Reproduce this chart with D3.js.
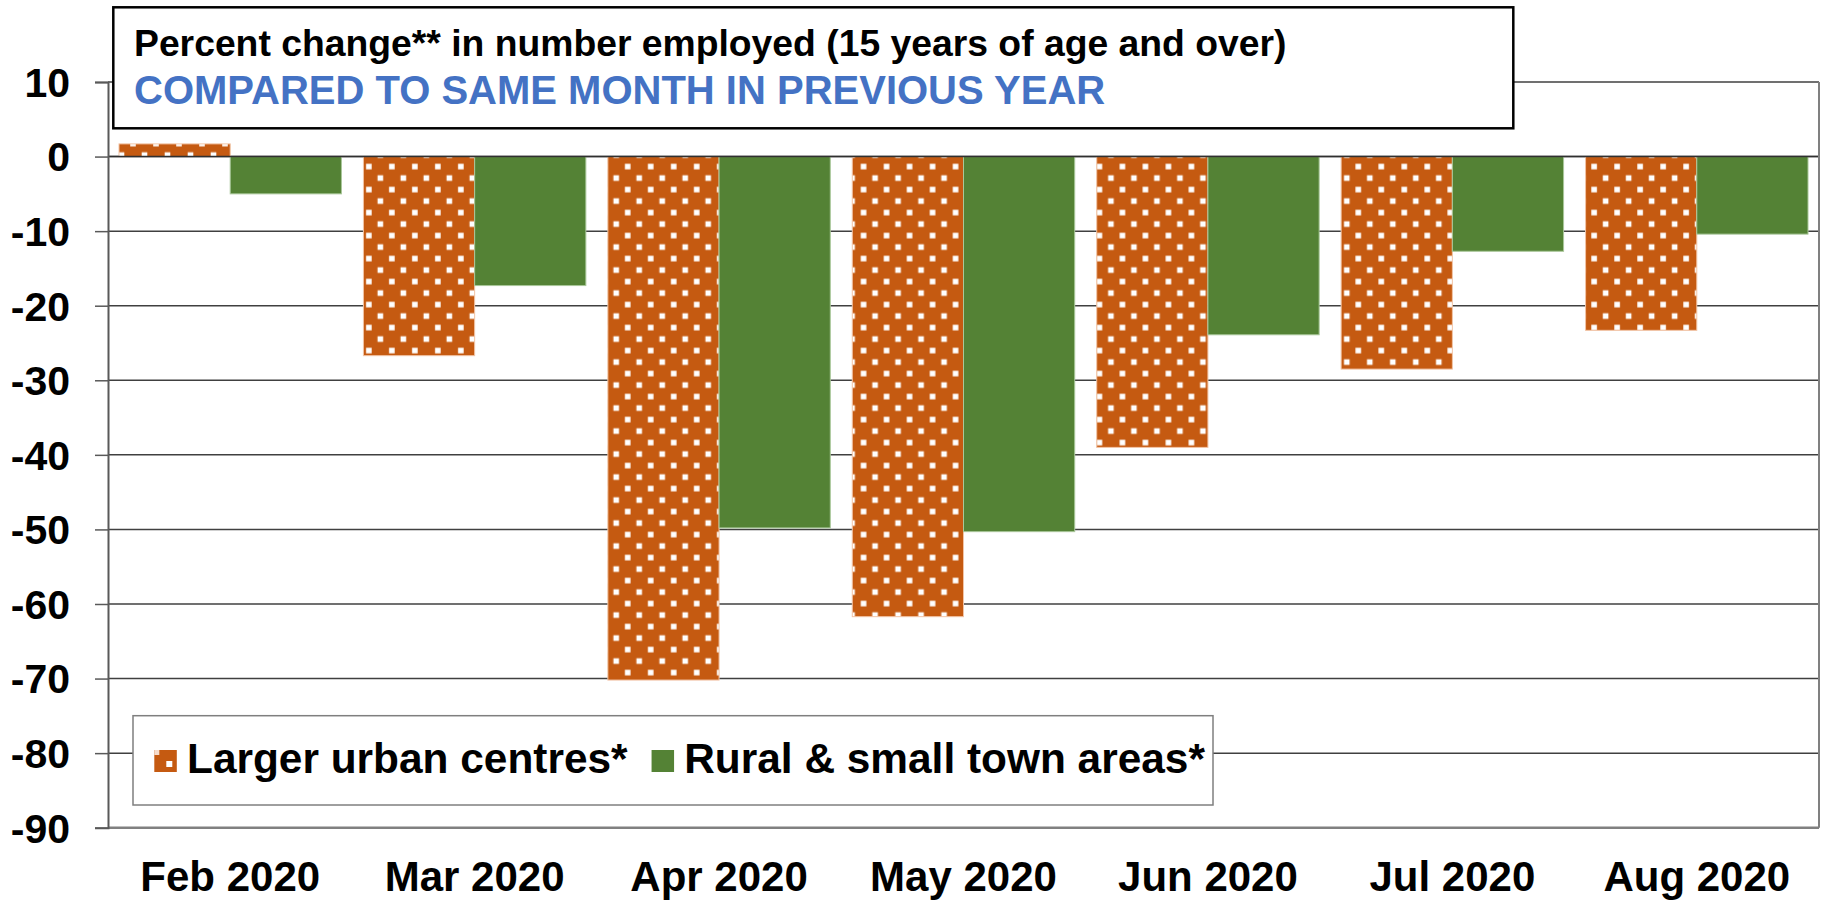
<!DOCTYPE html>
<html>
<head>
<meta charset="utf-8">
<script src="https://cdn.jsdelivr.net/npm/d3@7"></script>
<style>
  html, body { margin: 0; padding: 0; background: #fff; }
  svg { display: block; }
  text { font-family: "Liberation Sans", Arial, sans-serif; font-weight: bold; }
</style>
</head>
<body>
<svg id="chart" width="1825" height="900"></svg>
<script>
const categories = ["Feb 2020", "Mar 2020", "Apr 2020", "May 2020", "Jun 2020", "Jul 2020", "Aug 2020"];
const urbanValues = [1.7, -26.7, -70.2, -61.7, -39.0, -28.5, -23.3];
const ruralValues = [-5.0, -17.3, -49.8, -50.3, -23.9, -12.7, -10.4];
const seriesKeys = ["urban", "rural"];
const seriesNames = ["Larger urban centres*", "Rural & small town areas*"];
const yTicks = [10, 0, -10, -20, -30, -40, -50, -60, -70, -80, -90];
const titleLine1 = "Percent change** in number employed (15 years of age and over)";
const titleLine2 = "COMPARED TO SAME MONTH IN PREVIOUS YEAR";

(function () {
const ORANGE = "#C55A11", GREEN = "#548235", BLUE = "#4472C4";

const svg = d3.select("#chart");
const pLeft = 108, pRight = 1819, pTop = 82, pBottom = 827.7;

const y = d3.scaleLinear().domain([-90, 10]).range([pBottom, pTop]);
const x0 = d3.scaleBand().domain(categories).range([pLeft, pRight]).paddingInner(0.09).paddingOuter(0.045);
const x1 = d3.scaleBand().domain(seriesKeys).range([0, x0.bandwidth()]);

const data = categories.map((c, i) => ({cat: c, urban: urbanValues[i], rural: ruralValues[i]}));

const defs = svg.append("defs");

// gridlines
svg.append("g").selectAll("line").data(yTicks.filter(t => t !== -90)).join("line")
  .attr("x1", pLeft).attr("x2", pRight)
  .attr("y1", d => y(d)).attr("y2", d => y(d))
  .attr("stroke", "#404040").attr("stroke-width", 1.5);

// patterns
data.forEach((d, i) => {
  const bx = x0(d.cat) + x1("urban");
  const p = defs.append("pattern").attr("id", "pat" + i)
    .attr("patternUnits", "userSpaceOnUse")
    .attr("x", bx).attr("y", y(0)).attr("width", 23).attr("height", 23);
  p.append("rect").attr("width", 23).attr("height", 23).attr("fill", ORANGE);
  [[7.2, 7.2], [18.7, 18.7], [-4.3, 18.7], [18.7, -4.3], [-4.3, -4.3]].forEach(([px, py]) => {
    p.append("rect").attr("x", px).attr("y", py).attr("width", 5.6).attr("height", 5.6).attr("fill", "#fff");
  });
});

// bars
const groups = svg.append("g").selectAll("g").data(data).join("g")
  .attr("transform", d => `translate(${x0(d.cat)},0)`);

groups.each(function(d, i) {
  const g = d3.select(this);
  g.append("rect")
    .attr("x", x1("urban")).attr("width", x1.bandwidth())
    .attr("y", y(Math.max(0, d.urban))).attr("height", Math.abs(y(d.urban) - y(0)))
    .attr("fill", `url(#pat${i})`).attr("stroke", "#F2C4A6").attr("stroke-width", 1);
  g.append("rect")
    .attr("x", x1("rural")).attr("width", x1.bandwidth())
    .attr("y", y(Math.max(0, d.rural))).attr("height", Math.abs(y(d.rural) - y(0)))
    .attr("fill", GREEN).attr("stroke", "#A9C79A").attr("stroke-width", 1);
});

// zero line on top
svg.append("line").attr("x1", pLeft).attr("x2", pRight).attr("y1", y(0)).attr("y2", y(0))
  .attr("stroke", "#303030").attr("stroke-width", 1.5);

// plot border right & bottom
svg.append("line").attr("x1", pRight).attr("x2", pRight).attr("y1", pTop).attr("y2", pBottom)
  .attr("stroke", "#808080").attr("stroke-width", 2);
svg.append("line").attr("x1", pLeft).attr("x2", pRight).attr("y1", pBottom).attr("y2", pBottom)
  .attr("stroke", "#808080").attr("stroke-width", 2.5);

// y axis
const yAxis = svg.append("g").attr("transform", `translate(${pLeft},0)`)
  .call(d3.axisLeft(y).tickValues(yTicks).tickSize(13).tickPadding(25).tickFormat(d3.format("d")));
yAxis.select(".domain").attr("stroke", "#595959").attr("stroke-width", 2);
yAxis.selectAll(".tick line").attr("stroke", "#595959").attr("stroke-width", 1.5);
yAxis.selectAll(".tick text").attr("font-size", 41).attr("font-family", null).attr("fill", "#000")
  .attr("dy", "0.35em").text(d => d < 0 ? "-" + Math.abs(d) : d);

// x axis labels
const xAxis = svg.append("g").attr("transform", `translate(0,${pBottom})`)
  .call(d3.axisBottom(x0).tickSize(0).tickPadding(33.5));
xAxis.select(".domain").remove();
xAxis.selectAll(".tick text").attr("font-size", 42).attr("font-family", null).attr("fill", "#000");

// title box
svg.append("rect").attr("x", 113.3).attr("y", 7.3).attr("width", 1400).attr("height", 121)
  .attr("fill", "#fff").attr("stroke", "#000").attr("stroke-width", 2.5);
svg.append("text").attr("x", 134).attr("y", 56).attr("font-size", 37.3).attr("fill", "#000").text(titleLine1);
svg.append("text").attr("x", 134).attr("y", 103.5).attr("font-size", 40).attr("fill", BLUE).text(titleLine2);

// legend
svg.append("rect").attr("x", 133).attr("y", 715.7).attr("width", 1080).attr("height", 89.3)
  .attr("fill", "#fff").attr("stroke", "#7f7f7f").attr("stroke-width", 1.5);
const lg = svg.append("g");
let lx = 154.3;
seriesKeys.forEach((k, i) => {
  if (k === "urban") {
    lg.append("rect").attr("x", lx).attr("y", 750).attr("width", 22.5).attr("height", 22).attr("fill", ORANGE);
    lg.append("rect").attr("x", lx + 12).attr("y", 761).attr("width", 6).attr("height", 6).attr("fill", "#fff");
    lg.append("rect").attr("x", lx).attr("y", 750).attr("width", 5).attr("height", 5).attr("fill", "#F6DCCB");
  } else {
    lg.append("rect").attr("x", lx).attr("y", 750).attr("width", 22.5).attr("height", 22).attr("fill", GREEN);
  }
  const t = lg.append("text").attr("x", lx + 32.7).attr("y", 773).attr("font-size", 42.4).attr("fill", "#000").text(seriesNames[i]);
  lx = lx + 32.7 + t.node().getComputedTextLength() + 24;
});
})();
</script>
</body>
</html>
